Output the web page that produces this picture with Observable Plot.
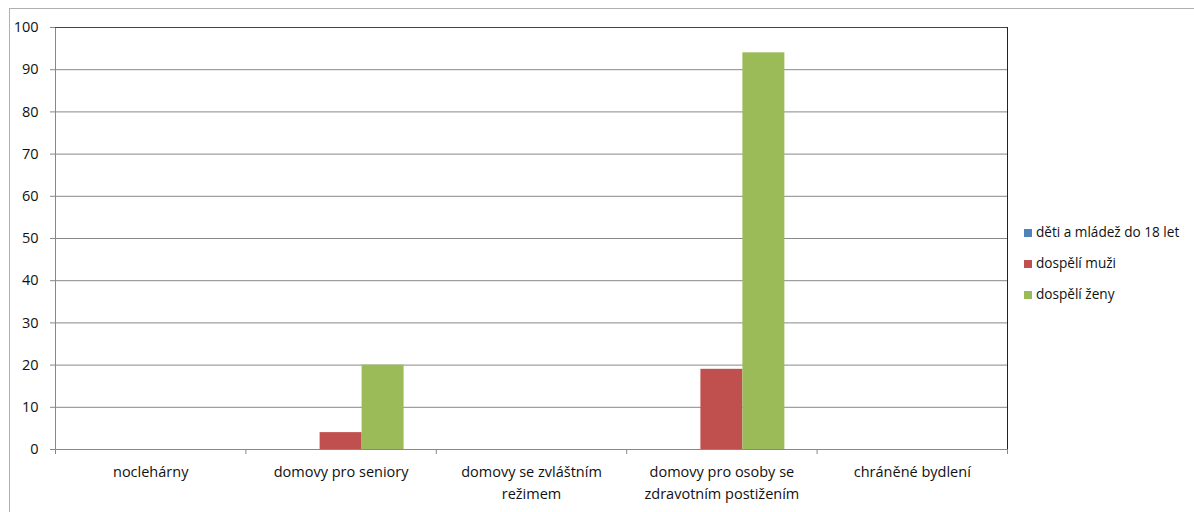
<!DOCTYPE html>
<html><head><meta charset="utf-8">
<script src="https://cdn.jsdelivr.net/npm/d3@7"></script>
<script src="https://cdn.jsdelivr.net/npm/@observablehq/plot@0.6"></script>
<style>
body{margin:0;background:#fff;}
#wrap{position:relative;width:1194px;height:512px;overflow:hidden;font-family:"Open Sans",sans-serif;}
#frame{position:absolute;left:9px;top:8px;width:1200px;height:520px;border:1px solid #b0b0b0;box-sizing:border-box;}
#chart{position:absolute;left:0;top:0;}
#legend{position:absolute;left:1024px;top:222px;font-size:13.6px;color:#111;}
#legend .it{height:31px;line-height:20px;white-space:nowrap;}
#legend .sw{display:inline-block;width:8px;height:8px;margin-right:4px;vertical-align:0px;}
</style></head>
<body><div id="wrap"><div id="frame"></div><div id="chart"></div><div id="legend"></div></div>
<script>
const categories = ["noclehárny", "domovy pro seniory", "domovy se zvláštním\nrežimem", "domovy pro osoby se\nzdravotním postižením", "chráněné bydlení"];
const series = ["děti a mládež do 18 let", "dospělí muži", "dospělí ženy"];
const detiValues = [0, 0, 0, 0, 0];
const muziValues = [0, 4, 0, 19, 0];
const zenyValues = [0, 20, 0, 94, 0];
const colors = ["#4F81BD", "#C0504D", "#9BBB59"];
const yTicks = [0, 10, 20, 30, 40, 50, 60, 70, 80, 90, 100];

const seriesValues = [detiValues, muziValues, zenyValues];
const barW = 42 / 190.5;
const groupOff = (1 - series.length * barW) / 2;
const rows = [];
categories.forEach((c, i) => series.forEach((s, j) => rows.push({i, j, s, value: seriesValues[j][i]})));
const bounds = d3.range(categories.length + 1);
const centers = categories.map((c, i) => i + 0.5);

const plot = Plot.plot({
  width: 1194, height: 512,
  marginLeft: 55, marginRight: 187, marginTop: 27, marginBottom: 63,
  style: {fontFamily: '"Open Sans", sans-serif', fontSize: "14.5px", color: "#111", background: "transparent"},
  x: {domain: [0, categories.length], axis: null},
  y: {domain: [0, 100], axis: null},
  color: {domain: series, range: colors},
  marks: [
    Plot.gridY(yTicks, {stroke: "#888", strokeOpacity: 1}),
    Plot.rectY(rows.filter(d => d.value > 0), {
      x1: d => d.i + groupOff + d.j * barW,
      x2: d => d.i + groupOff + (d.j + 1) * barW,
      y1: 0, y2: "value", fill: d => d.s
    }),
    Plot.ruleX([0], {stroke: "#888"}),
    Plot.ruleY([0], {stroke: "#888"}),
    Plot.ruleY([100], {stroke: "#444"}),
    Plot.ruleX([categories.length], {stroke: "#222"}),
    Plot.axisY({ticks: yTicks, tickSize: 5, tickPadding: 12, stroke: "#888", strokeOpacity: 1, fontSize: 14.5, label: null}),
    Plot.axisX({ticks: bounds, tickSize: 5, tickFormat: () => "", stroke: "#888", strokeOpacity: 1, label: null}),
    Plot.axisX({ticks: centers, tickSize: 0, tickPadding: 12, tickFormat: (d) => categories[Math.round(d - 0.5)], lineHeight: 1.5, fontSize: 14.5, label: null})
  ]
});
document.getElementById("chart").appendChild(plot);

const leg = document.getElementById("legend");
series.forEach((s, j) => {
  const it = document.createElement("div");
  it.className = "it";
  it.innerHTML = `<span class="sw" style="background:${colors[j]}"></span>${s}`;
  leg.appendChild(it);
});
</script></body></html>
